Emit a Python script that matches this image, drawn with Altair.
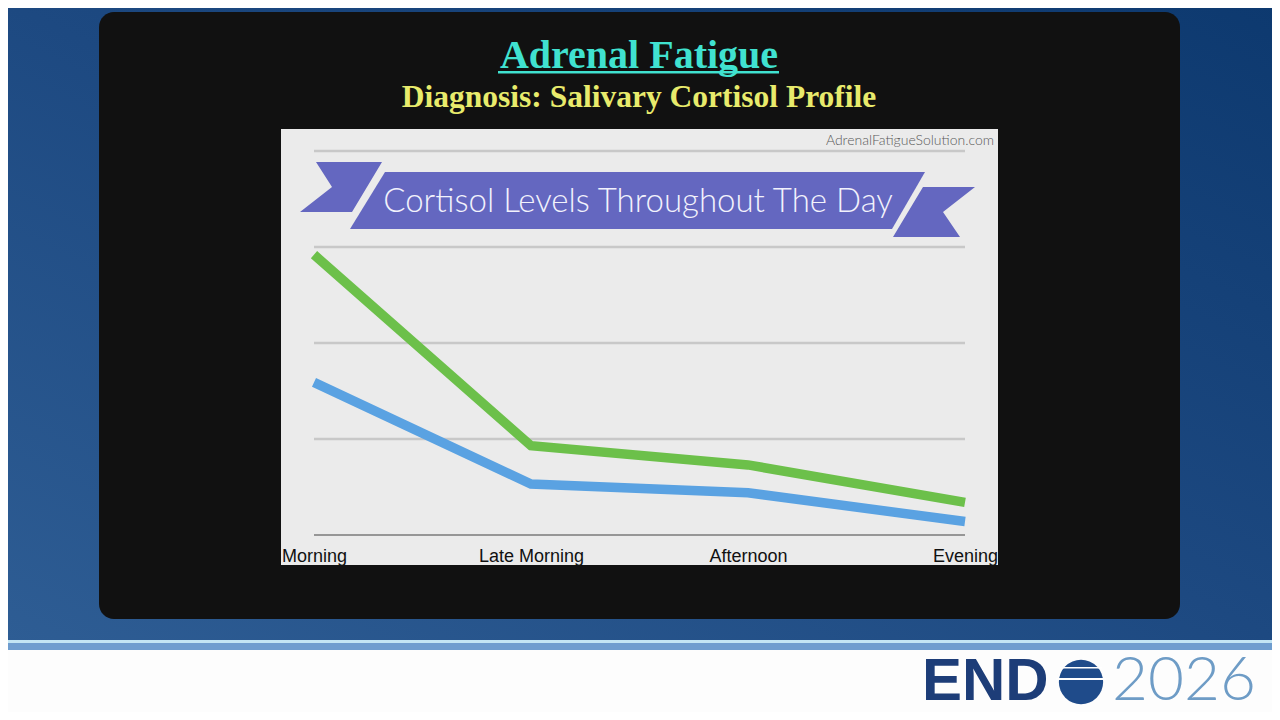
import altair as alt
import pandas as pd

# ---- data ----
categories = ["Morning", "Late Morning", "Afternoon", "Evening"]
normal_curve = [2.92, 0.93, 0.73, 0.34]     # green line
fatigue_curve = [1.59, 0.53, 0.44, 0.14]    # blue line
grid_values = [1, 2, 3, 4]
series_names = ["Fatigue", "Normal"]
series_colors = ["#5aa2e2", "#6cc04a"]

# ---- layout (plot area = chart region of the slide) ----
W, H = 651, 384
PX = alt.Scale(domain=[314, 965], range=[0, W], nice=False, zero=False)
PY = alt.Scale(domain=[151, 535], range=[0, H], nice=False, zero=False)
YS = alt.Scale(domain=[0, 4], nice=False, zero=False)


def xq(f="x"):
    return alt.X(f"{f}:Q", scale=PX, axis=None)


def yq(f="y"):
    return alt.Y(f"{f}:Q", scale=PY, axis=None)


def rect(x1, x2, y1, y2, **kw):
    d = pd.DataFrame({"x": [x1], "x2": [x2], "y": [y1], "y2": [y2]})
    return alt.Chart(d).mark_rect(**kw).encode(x=xq(), x2="x2:Q", y=yq(), y2="y2:Q")


def text(s, x, y, **kw):
    d = pd.DataFrame({"x": [x], "y": [y], "t": [s]})
    return alt.Chart(d).mark_text(**kw).encode(x=xq(), y=yq(), text="t:N")


def poly(ys, xl, xr, color):
    d = pd.DataFrame({"y": ys, "x": xl, "x2": xr})
    return alt.Chart(d).mark_area(orient="horizontal", color=color).encode(
        y=alt.Y("y:Q", scale=PY, axis=None, sort=None), x=xq(), x2="x2:Q")


bg = rect(0, 1280, 0, 641, color=alt.LinearGradient(
    gradient="linear",
    stops=[alt.GradientStop(color="#2e5d94", offset=0),
           alt.GradientStop(color="#1d4981", offset=0.5),
           alt.GradientStop(color="#0d396f", offset=1)],
    x1=0, y1=1, x2=1, y2=0))

band_light = rect(0, 1280, 640, 643, color="#c3e5f4")
band_mid = rect(0, 1280, 643, 650, color="#6f9dcf")
band_white = rect(0, 1280, 650, 720, color="#fdfdfd")

black_box = rect(99, 1180, 12, 619, color="#111111", cornerRadius=15)
grey_box = rect(281, 998, 129, 565, color="#ebebeb")

site = text("AdrenalFatigueSolution.com", 994, 145, align="right", baseline="alphabetic",
            font="Lato", fontWeight=300, fontSize=14, color="#5a5a5a")

ribbon_color = "#6467c0"
tail_left = poly([162, 187, 212], [316, 332, 300], [382, 367, 352], ribbon_color)
banner = poly([172, 229], [385, 350], [925, 892], ribbon_color)
tail_right = poly([187, 212, 237], [923, 908, 893], [975, 943, 960], ribbon_color)
banner_text = text("Cortisol Levels Throughout The Day", 638, 212, align="center",
                   baseline="alphabetic", font="Lato",
                   fontSize=33, fontWeight=300, color="#f2f2fc")

title = text("Adrenal Fatigue", 639, 68, align="center", baseline="alphabetic",
             font="Liberation Serif", fontWeight="bold", fontSize=40, color="#40e2d0")
underline = rect(498, 779, 71, 73.5, color="#40e2d0")
subtitle = text("Diagnosis: Salivary Cortisol Profile", 639, 107, align="center",
                baseline="alphabetic", font="Liberation Serif", fontWeight="bold",
                fontSize=31.5, color="#e8eb6c")

grid = alt.Chart(pd.DataFrame({"v": grid_values})).mark_rule(
    color="#c8c8c8", strokeWidth=2.5).encode(
    y=alt.Y("v:Q", scale=YS, axis=None), x=alt.value(0), x2=alt.value(W))
baseline = alt.Chart(pd.DataFrame({"v": [0]})).mark_rule(
    color="#7a7a7a", strokeWidth=1.5).encode(
    y=alt.Y("v:Q", scale=YS, axis=None), x=alt.value(0), x2=alt.value(W))

rows = []
for name, vals in zip(series_names, [fatigue_curve, normal_curve]):
    for c, v in zip(categories, vals):
        rows.append({"time": c, "level": v, "series": name})
ldf = pd.DataFrame(rows)

lines = alt.Chart(ldf).mark_line(strokeWidth=9.5, strokeCap="butt", strokeJoin="miter").encode(
    x=alt.X("time:N", sort=categories,
            scale=alt.Scale(type="point", domain=categories, padding=0),
            axis=alt.Axis(title=None, domain=False, ticks=False, tickSize=0, grid=False,
                          labelPadding=12, labelFontSize=18, labelFont="Liberation Sans",
                          labelColor="#111111", labelAngle=0, zindex=1)),
    y=alt.Y("level:Q", scale=YS, axis=None),
    color=alt.Color("series:N", scale=alt.Scale(domain=series_names, range=series_colors),
                    legend=None),
    detail="series:N",
)

end_text = text("END", 922, 700, align="left", baseline="alphabetic",
                font="Liberation Sans", fontWeight="bold", fontSize=60, color="#1d3d78")
globe = alt.Chart(pd.DataFrame({"x": [1081], "y": [682]})).mark_circle(
    size=1960, color="#1f4b8a", opacity=1).encode(x=xq(), y=yq())
globe_line = rect(1056, 1106, 678, 680, color="#ffffff")
globe_line2 = rect(1060, 1102, 667, 668.5, color="#ffffff")
year_text = text("2026", 1112, 700, align="left", baseline="alphabetic",
                 font="Lato", fontWeight=300, fontSize=62, color="#6e9cc6")

chart = alt.layer(
    bg, band_light, band_mid, band_white,
    black_box, grey_box, site,
    tail_left, banner, tail_right, banner_text,
    title, underline, subtitle,
    grid, baseline, lines,
    end_text, globe, globe_line, globe_line2, year_text,
).resolve_scale(x="independent", y="independent", color="independent").properties(
    width=W, height=H,
    padding={"left": 306, "top": 143, "right": 307, "bottom": 177},
    autosize=alt.AutoSizeParams(type="none"),
).configure_view(stroke=None)

chart.save("out.html", embed_options={"renderer": "svg", "actions": False})
